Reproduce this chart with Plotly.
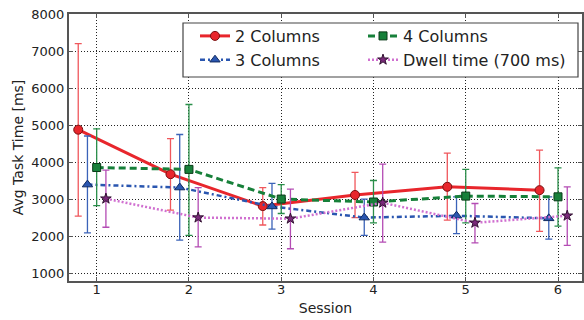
import plotly.graph_objects as go

sessions = [1, 2, 3, 4, 5, 6]

names = ["2 Columns", "3 Columns", "4 Columns", "Dwell time (700 ms)"]
offsets = [-0.2, -0.1, 0.0, 0.1]

mean_2col = [4880, 3680, 2820, 3120, 3340, 3250]
upper_2col = [7200, 4640, 3320, 3730, 4250, 4330]
lower_2col = [2550, 2710, 2310, 2510, 2440, 2140]

mean_3col = [3400, 3320, 2810, 2510, 2560, 2490]
upper_3col = [4710, 4750, 3430, 3010, 3070, 3070]
lower_3col = [2100, 1900, 2200, 2030, 2080, 1930]

mean_4col = [3860, 3810, 3010, 2930, 3090, 3070]
upper_4col = [4900, 5560, 3400, 3510, 3810, 3850]
lower_4col = [2830, 2030, 2620, 2370, 2370, 2280]

mean_dwell = [3020, 2510, 2480, 2910, 2370, 2560]
upper_dwell = [3790, 3320, 3280, 3950, 2890, 3340]
lower_dwell = [2250, 1720, 1670, 1850, 1830, 1760]

x_ticks = [1, 2, 3, 4, 5, 6]
y_ticks = [1000, 2000, 3000, 4000, 5000, 6000, 7000, 8000]

series = [
    dict(name=names[0], mean=mean_2col, up=upper_2col, lo=lower_2col, off=offsets[0],
         color="#e8262c", ecolor="#f0575c", dash="solid", width=3,
         symbol="circle", msize=9, mcolor="#e8262c", mline="#7a1010", leg="legend"),
    dict(name=names[1], mean=mean_3col, up=upper_3col, lo=lower_3col, off=offsets[1],
         color="#2a56b0", ecolor="#3b63b8", dash="5px,3px,2px,3px", width=2.5,
         symbol="triangle-up", msize=9, mcolor="#2a56b0", mline="#102a60", leg="legend"),
    dict(name=names[2], mean=mean_4col, up=upper_4col, lo=lower_4col, off=offsets[2],
         color="#17803a", ecolor="#2a8f4a", dash="7px,4px", width=3,
         symbol="square", msize=8, mcolor="#17803a", mline="#0a3a18", leg="legend2"),
    dict(name=names[3], mean=mean_dwell, up=upper_dwell, lo=lower_dwell, off=offsets[3],
         color="#d070d0", ecolor="#b44cb4", dash="2px,2px", width=2.5,
         symbol="star", msize=8, mcolor="#7a2a7a", mline="#301030", leg="legend2"),
]

fig = go.Figure()
for s in series:
    xs = [x + s["off"] for x in sessions]
    fig.add_trace(go.Scatter(
        x=xs, y=s["mean"], name=s["name"], mode="lines+markers",
        legend=s["leg"],
        line=dict(color=s["color"], width=s["width"], dash=s["dash"]),
        marker=dict(symbol=s["symbol"], size=s["msize"], color=s["mcolor"],
                    line=dict(color=s["mline"], width=1)),
        error_y=dict(type="data", symmetric=False,
                     array=[u - m for u, m in zip(s["up"], s["mean"])],
                     arrayminus=[m - l for l, m in zip(s["lo"], s["mean"])],
                     color=s["ecolor"], thickness=1.3, width=3.5),
    ))

# plot area in pixels: x 69..582, y 14..281
PL, PR, PT, PB = 69, 582, 14, 281
W, H = 584, 320


def px(x):
    return (x - PL) / (PR - PL)


def py(y):
    return (PB - y) / (PB - PT)


legend_common = dict(orientation="v", xanchor="left", yanchor="top",
                     bgcolor="rgba(0,0,0,0)", borderwidth=0,
                     font=dict(size=16, color="#222"), tracegroupgap=0)

font = "DejaVu Sans"
fig.update_layout(
    width=W, height=H,
    margin=dict(l=PL, r=W - PR, t=PT, b=H - PB, autoexpand=False),
    paper_bgcolor="white", plot_bgcolor="white",
    font=dict(family=font, size=13, color="#222"),
    legend=dict(x=px(195), y=py(19), **legend_common),
    legend2=dict(x=px(363), y=py(19), **legend_common),
    showlegend=True,
    shapes=[dict(type="rect", xref="paper", yref="paper",
                 x0=px(183), x1=px(578), y0=py(77), y1=py(23),
                 fillcolor="white", line=dict(color="#444", width=1.2),
                 layer="above")],
)
fig.update_xaxes(
    range=[0.7, 6.26], tickvals=x_ticks, ticktext=[str(t) for t in x_ticks],
    showline=True, linecolor="#555", linewidth=2, mirror="ticks",
    ticks="inside", ticklen=4, tickcolor="#555", automargin=False,
    ticklabelstandoff=-5,
    showgrid=True, gridcolor="#222", griddash="1px,2px", gridwidth=1,
    zeroline=False,
    title=dict(text="Session", standoff=8, font=dict(size=14)),
)
fig.update_yaxes(
    range=[800, 8000], tickvals=y_ticks, ticktext=[str(t) for t in y_ticks],
    showline=True, linecolor="#555", linewidth=2, mirror="ticks",
    ticks="inside", ticklen=4, tickcolor="#555", automargin=False,
    showgrid=True, gridcolor="#222", griddash="1px,2px", gridwidth=1,
    zeroline=False,
    title=dict(text="Avg Task Time [ms]", standoff=4, font=dict(size=14)),
)

fig.write_html("out.html", config={"displayModeBar": False},
               post_script="document.body.style.margin='0px';document.body.style.overflow='hidden';")
